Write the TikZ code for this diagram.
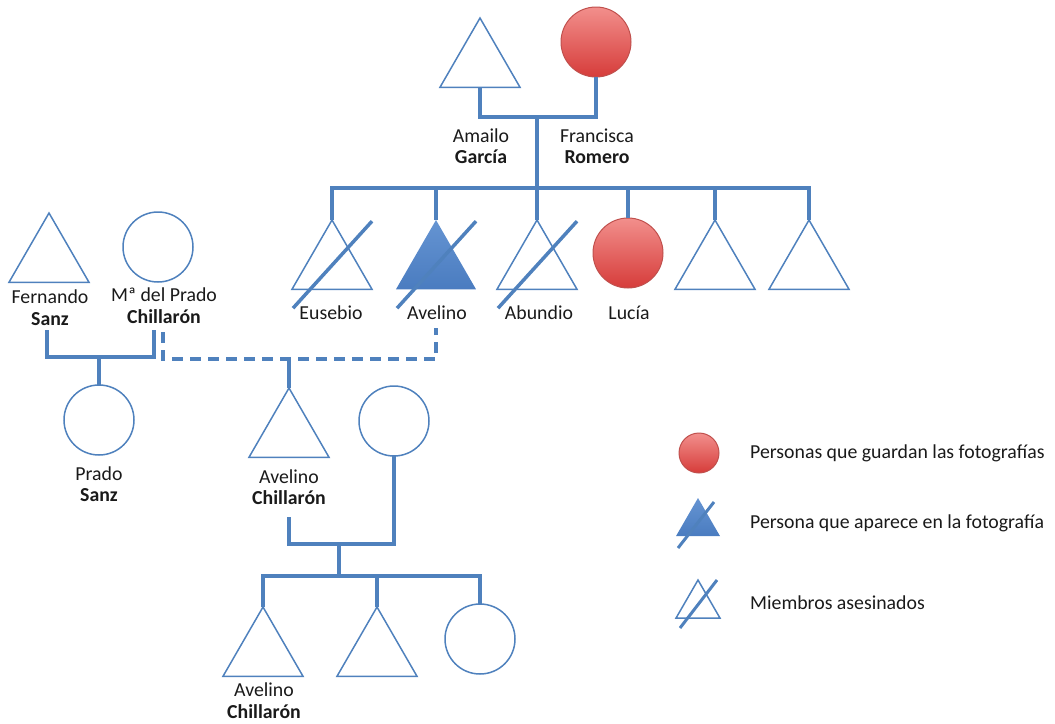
\documentclass[tikz,border=0pt]{standalone}
\usepackage{fontspec}
\setmainfont{Carlito}
\usetikzlibrary{shapes.geometric,calc}

\definecolor{linkblue}{HTML}{4F81BD}
\definecolor{shownblue}{HTML}{4A7CC0}
\definecolor{shownlight}{HTML}{6594D2}
\definecolor{keepertop}{HTML}{F28F8C}
\definecolor{keeperbottom}{HTML}{D63C3A}
\definecolor{keeperedge}{HTML}{C0504D}
\definecolor{textgray}{HTML}{1A1A1A}

\tikzset{
  link/.style={draw=linkblue, line width=4pt},
  dashlink/.style={link, dash pattern=on 11pt off 7pt},
  tri/.style={regular polygon, regular polygon sides=3, minimum size=92.4pt,
    inner sep=0pt, outer sep=0pt, draw=linkblue, line width=1.5pt},
  smalltri/.style={tri, minimum size=50.8pt},
  person/.style={circle, minimum size=70pt, inner sep=0pt, outer sep=0pt,
    draw=linkblue, line width=1.5pt},
  keeper/.style={circle, minimum size=70pt, inner sep=0pt, outer sep=0pt,
    draw=keeperedge, line width=1pt, top color=keepertop, bottom color=keeperbottom},
  shown/.style={draw=none, top color=shownlight, bottom color=shownblue},
  slash/.style={draw=linkblue, line width=3.5pt},
  lbl/.style={anchor=base, inner sep=0pt, text=textgray,
    font=\fontsize{19.8}{21.5}\selectfont},
  lblb/.style={lbl, font=\fontsize{19.8}{21.5}\selectfont\bfseries},
  legtext/.style={lbl, anchor=base west},
}

\begin{document}
\begin{tikzpicture}[x=1pt, y=-1pt, line join=miter]
\useasboundingbox (0,0) rectangle (1055,723);

% ---------- grandparents ----------
\node[tri] (amailo) at (480,64.2) {};
\node[keeper] (francisca) at (596,42) {};
\node[lbl]  (amailoN) at (481,142) {Amailo};
\node[lblb] (amailoS) at (481,163) {García};
\node[lbl]  (franciscaN) at (597,142) {Francisca};
\node[lblb] (franciscaS) at (597,163) {Romero};

\coordinate (cpl1) at (537,117);
\coordinate (sib1) at (537,188);
\draw[link] (amailo.south) |- (cpl1) -| (francisca.south);
\draw[link] (cpl1) -- (sib1);

% ---------- their children ----------
\node[tri] (eusebio) at (332,266.2) {};
\node[tri, shown] (avelino) at (436,266.2) {};
\node[tri] (abundio) at (537,266.2) {};
\node[keeper] (lucia) at (628,253) {};
\node[tri] (sibfive) at (715,266.2) {};
\node[tri] (sibsix) at (809,266.2) {};

\draw[link] (eusebio.north) -- (eusebio.north |- sib1) -- (sibsix.north |- sib1) -- (sibsix.north);
\foreach \n in {avelino,abundio,lucia,sibfive}
  \draw[link] (\n.north) -- (\n.north |- sib1);

\foreach \n in {eusebio,avelino,abundio}
  \draw[slash] ($(\n.center)+(-39,42)$) -- ($(\n.center)+(40,-45)$);

\node[lbl] (eusebioL) at (331,319) {Eusebio};
\node[lbl] (avelinoL) at (437,319) {Avelino};
\node[lbl] (abundioL) at (539,319) {Abundio};
\node[lbl] (luciaL) at (629,319) {Lucía};

% ---------- Sanz / Chillarón family ----------
\node[tri] (fernando) at (49,259.2) {};
\node[person] (mprado) at (158,247) {};
\node[lbl]  (fernandoN) at (50,303) {Fernando};
\node[lblb] (fernandoS) at (50,325) {Sanz};
\node[lbl]  (mpradoN) at (164,301) {Mª del Prado};
\node[lblb] (mpradoS) at (164,323) {Chillarón};

\coordinate (fc) at (47,330);
\coordinate (mc) at (154,330);
\coordinate (fbar) at (99,357);
\draw[link] (fc) |- (fbar) -| (mc);

\node[person] (prado) at (99,420) {};
\draw[link] (fbar) -- (prado.north);
\node[lbl]  (pradoN) at (99,480) {Prado};
\node[lblb] (pradoS) at (99,501) {Sanz};

% dashed union of Mª del Prado and Avelino
\coordinate (dl) at (163,332);
\coordinate (dr) at (436,328);
\coordinate (dbar) at (289,359);
\draw[dashlink] (dl) |- (dbar) -| (dr);

\node[tri] (avch) at (289,434.2) {};
\node[person] (wife) at (394,421) {};
\draw[link] (dbar) -- (avch.north);
\node[lbl]  (avchN) at (289,483) {Avelino};
\node[lblb] (avchS) at (289,504) {Chillarón};

\coordinate (ac) at (289,517);
\coordinate (abar) at (339,544);
\coordinate (sib3) at (339,576);
\draw[link] (ac) |- (abar) -| (wife.south);
\draw[link] (abar) -- (sib3);

% ---------- grandchildren ----------
\node[tri] (kidone) at (263,653.2) {};
\node[tri] (kidtwo) at (377,653.2) {};
\node[person] (kidthree) at (480,639) {};
\draw[link] (kidone.north) -- (kidone.north |- sib3) -- (kidthree.north |- sib3) -- (kidthree.north);
\draw[link] (kidtwo.north) -- (kidtwo.north |- sib3);
\node[lbl]  (kidoneN) at (264,696) {Avelino};
\node[lblb] (kidoneS) at (264,718) {Chillarón};

% ---------- legend ----------
\node[keeper, minimum size=40pt] (legkeep) at (699,453) {};
\node[smalltri, shown] (legshown) at (698,523.4) {};
\node[smalltri] (legkilled) at (698,605.4) {};
\draw[slash, line width=3pt] ($(legshown.center)+(-20,24.6)$) -- ($(legshown.center)+(16,-21.4)$);
\draw[slash, line width=3pt] ($(legkilled.center)+(-18,22.6)$) -- ($(legkilled.center)+(19,-25.4)$);
\node[legtext] (legkeepT) at (750,458) {Personas que guardan las fotografías};
\node[legtext] (legshownT) at (750,528) {Persona que aparece en la fotografía};
\node[legtext] (legkilledT) at (750,609) {Miembros asesinados};
\end{tikzpicture}
\end{document}
